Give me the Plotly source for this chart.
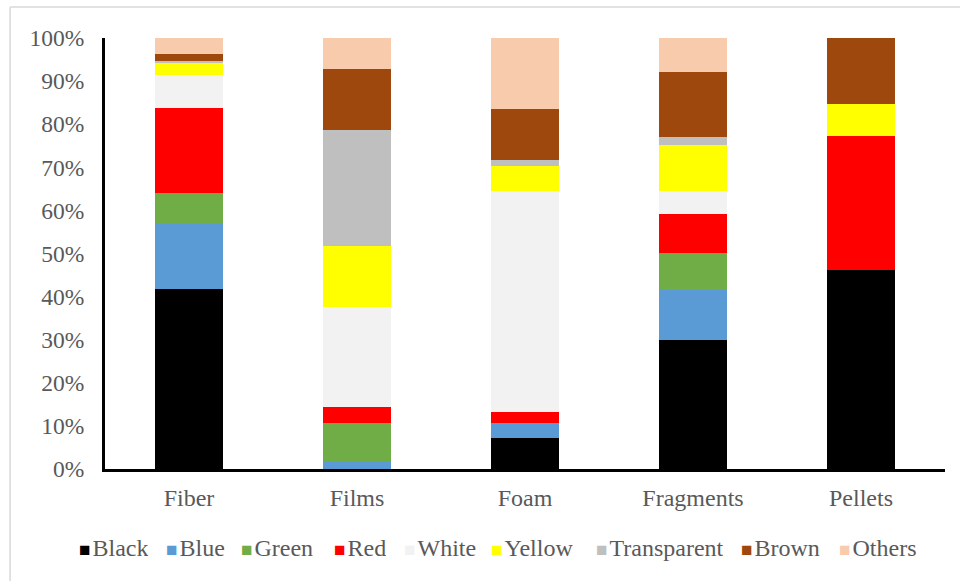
import plotly.graph_objects as go

# Shape categories of the particles
categories = ["Fiber", "Films", "Foam", "Fragments", "Pellets"]

# Colour shares (%) per shape category
black = [41.7, 0.0, 7.2, 29.9, 46.2]
blue = [15.3, 1.8, 3.5, 11.6, 0.0]
green = [7.0, 8.9, 0.0, 8.6, 0.0]
red = [19.7, 3.6, 2.5, 9.0, 31.0]
white = [7.7, 23.2, 51.2, 5.5, 0.0]
yellow = [2.7, 14.3, 6.0, 10.5, 7.4]
transparent = [0.6, 26.8, 1.2, 2.0, 0.0]
brown = [1.5, 14.3, 11.9, 14.9, 15.4]
others = [3.8, 7.1, 16.5, 8.0, 0.0]

series_names = ["Black", "Blue", "Green", "Red", "White", "Yellow",
                "Transparent", "Brown", "Others"]
series_values = [black, blue, green, red, white, yellow, transparent, brown, others]
series_colors = ["#000000", "#5B9BD5", "#70AD47", "#FF0000", "#F2F2F2",
                 "#FFFF00", "#BFBFBF", "#9E480E", "#F8CBAD"]

font_family = "Liberation Serif"
text_color = "#595959"

fig = go.Figure()
for name, vals, color in zip(series_names, series_values, series_colors):
    fig.add_trace(go.Bar(
        name=name,
        x=categories,
        y=[v / 100 for v in vals],
        marker=dict(color=color, line=dict(width=0)),
    ))

# Compact one-row key under the axis: coloured square followed by the name
key_left_px = [77, 164, 239, 332, 402, 489, 594, 739, 837]
annotations = []
for name, color, left in zip(series_names, series_colors, key_left_px):
    annotations.append(dict(
        xref="paper", yref="paper",
        x=(left - 105) / 840, y=-0.1833,
        xanchor="left", yanchor="middle",
        height=30, valign="middle",
        showarrow=False,
        text=f"<span style='color:{color};font-size:19px'>■</span>\u200a{name}",
        font=dict(family=font_family, size=24, color=text_color),
    ))

fig.update_layout(
    barmode="stack",
    barnorm="fraction",
    bargap=0.595,
    width=960,
    height=581,
    margin=dict(l=105, r=15, t=38, b=112),
    paper_bgcolor="white",
    plot_bgcolor="white",
    font=dict(family=font_family, size=24, color=text_color),
    showlegend=False,
    annotations=annotations,
    xaxis=dict(
        showline=True, linecolor="black", linewidth=3,
        ticks="", showgrid=False,
        tickfont=dict(family=font_family, size=24, color=text_color),
        ticklabelstandoff=5,
    ),
    yaxis=dict(
        range=[0, 1],
        tickformat=".0%",
        dtick=0.1,
        showline=True, linecolor="black", linewidth=3,
        ticks="", showgrid=False, zeroline=False,
        tickfont=dict(family=font_family, size=23.5, color=text_color),
        ticklabelstandoff=13,
    ),
    shapes=[
        dict(type="line", xref="paper", yref="paper",
             x0=-0.113, x1=-0.113, y0=1.072, y1=-0.3,
             line=dict(color="#D9D9D9", width=1.5)),
        dict(type="line", xref="paper", yref="paper",
             x0=-0.113, x1=1.02, y0=1.072, y1=1.072,
             line=dict(color="#D9D9D9", width=1.5)),
    ],
)

fig.write_html("out.html")
